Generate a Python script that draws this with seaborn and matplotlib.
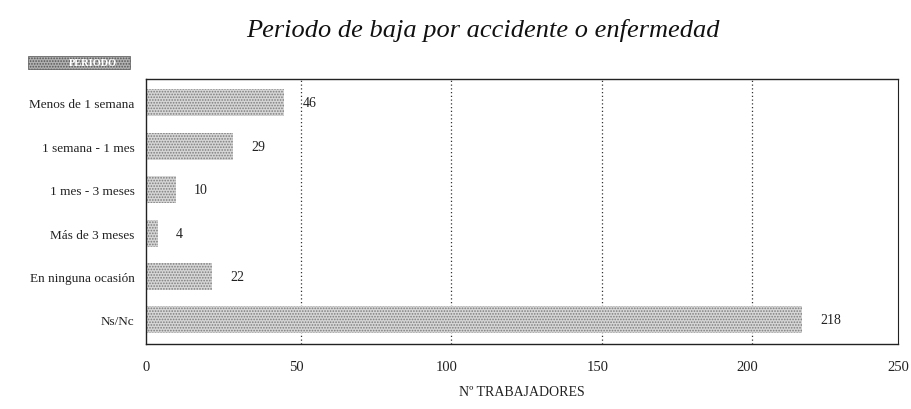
import matplotlib
matplotlib.use("Agg")
import matplotlib.pyplot as plt
import seaborn as sns
import pandas as pd
from matplotlib.patches import Rectangle

categorias = ["Menos de 1 semana", "1 semana - 1 mes", "1 mes - 3 meses",
              "Más de 3 meses", "En ninguna ocasión", "Ns/Nc"]
trabajadores = [46, 29, 10, 4, 22, 218]
ticks_x = [0, 50, 100, 150, 200, 250]

df = pd.DataFrame({"periodo": categorias, "n": trabajadores})

sns.set_theme(style="white")
plt.rcParams["font.family"] = ["Liberation Serif", "DejaVu Serif"]
plt.rcParams["hatch.linewidth"] = 0.8

fig = plt.figure(figsize=(9.11, 4.10), dpi=100)
ax = fig.add_axes([0.160, 0.159, 0.826, 0.646])

sns.barplot(data=df, y="periodo", x="n", ax=ax, orient="h", width=0.62,
            color="#d4d4d4", saturation=1)
for bar in ax.patches:
    bar.set_facecolor("#d6d6d6")
    bar.set_edgecolor("#7d7d7d")
    bar.set_linewidth(0)
    bar.set_hatch("......")

ax.set_xlim(0, 250)
ax.set_ylim(len(categorias) - 0.45, -0.55)
ax.set_xticks(ticks_x)
ax.set_xticklabels([str(t) for t in ticks_x], fontsize=10.5, color="#222222")
ax.set_yticks(range(len(categorias)))
ax.set_yticklabels(categorias, fontsize=9.5, color="#222222")
ax.tick_params(axis="y", length=0, pad=8)
ax.tick_params(axis="x", length=5, width=0.8, direction="in", color="#222222", pad=12)
ax.set_yticks([i + 0.5 for i in range(-1, len(categorias))], minor=True)
ax.tick_params(axis="y", which="minor", length=6, width=0.8, direction="out", color="#444444")

for x in ticks_x[1:-1]:
    ax.axvline(x + 1.5, color="#333333", linestyle=(0, (1, 2)), linewidth=0.9, zorder=0)

for spine in ax.spines.values():
    spine.set_visible(True)
    spine.set_color("#222222")
    spine.set_linewidth(1.0)
ax.spines["top"].set_linestyle((0, (3, 1)))
ax.spines["right"].set_linewidth(0.8)

for i, v in enumerate(trabajadores):
    ax.text(v + 6, i, str(v), va="center", ha="left", fontsize=10, color="#222222")

ax.set_ylabel("")
ax.set_xlabel("Nº TRABAJADORES", fontsize=10, color="#222222", labelpad=8)

fig.text(0.53, 0.925, "Periodo de baja por accidente o enfermedad",
         ha="center", va="center", fontsize=19, style="italic", color="#111111")

# legend swatch for the series
fig.patches.append(Rectangle((0.031, 0.830), 0.112, 0.032, transform=fig.transFigure,
                             facecolor="#b0b0b0", edgecolor="#555555", hatch="......",
                             linewidth=0.5, figure=fig))
fig.text(0.102, 0.846, "PERIODO", ha="center", va="center", fontsize=7.5,
         color="white", fontweight="bold")

fig.savefig("out.png", dpi=100, facecolor="white")
